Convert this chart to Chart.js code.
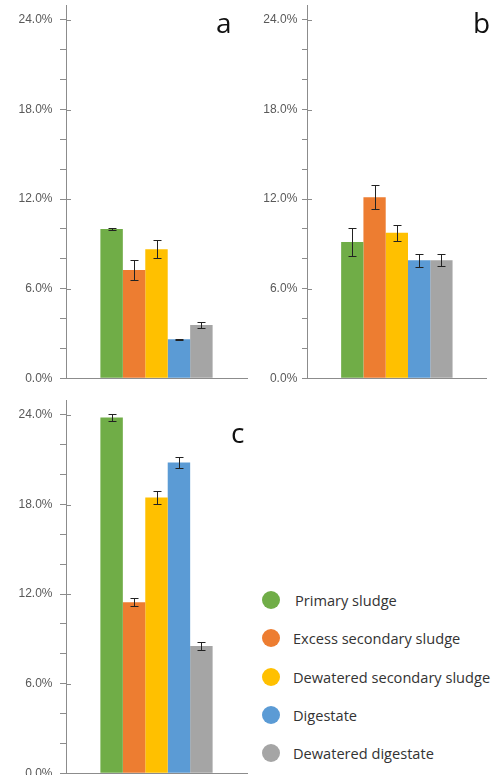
<!DOCTYPE html>
<html>
<head>
<meta charset="utf-8">
<script src="https://cdn.jsdelivr.net/npm/chart.js@4.4.1/dist/chart.umd.min.js"></script>
<style>
  html, body { margin: 0; padding: 0; width: 495px; height: 775px; overflow: hidden; background: #fff; }
  canvas { position: absolute; }
  .item { position: absolute; height: 20px; }
  .dot { position: absolute; left: 262px; top: 1px; width: 18px; height: 18px; border-radius: 50%; }
  .txt { position: absolute; left: 293px; top: 0; line-height: 20px; white-space: nowrap;
         font-family: 'Open Sans', sans-serif; font-size: 14.6px; color: #333; }
</style>
</head>
<body>
<canvas id="panelA" width="250" height="390" style="left:0;top:0"></canvas>
<canvas id="panelB" width="250" height="390" style="left:245px;top:0"></canvas>
<canvas id="panelC" width="250" height="390" style="left:0;top:395px"></canvas>
<div id="legend"></div>

<script>
// Sample types (one bar each per panel)
const seriesNames = ['Primary sludge', 'Excess secondary sludge', 'Dewatered secondary sludge', 'Digestate', 'Dewatered digestate'];
const seriesColors = ['#70AD47', '#ED7D31', '#FFC000', '#5B9BD5', '#A5A5A5'];

// Labelled y ticks (percent)
const majorTicks = [0, 6, 12, 18, 24];

// Panel a
const valuesA = [10.0, 7.26, 8.65, 2.61, 3.57];
const errorsA = [0.06, 0.65, 0.6, 0.05, 0.2];
// Panel b
const valuesB = [9.12, 12.13, 9.74, 7.91, 7.91];
const errorsB = [0.93, 0.8, 0.54, 0.44, 0.41];
// Panel c
const valuesC = [23.83, 11.46, 18.47, 20.82, 8.53];
const errorsC = [0.26, 0.26, 0.45, 0.39, 0.28];

const axisColor = '#8c8c8c';

// Draws the +/- error whiskers on top of every bar
const errorBars = {
  id: 'errorBars',
  afterDatasetsDraw(chart) {
    const ctx = chart.ctx;
    const y = chart.scales.y;
    ctx.save();
    ctx.strokeStyle = '#222';
    ctx.lineWidth = 1;
    chart.data.datasets.forEach((ds, i) => {
      const bar = chart.getDatasetMeta(i).data[0];
      const v = ds.data[0], e = ds.errorBar;
      const top = Math.round(y.getPixelForValue(v + e)) + 0.5;
      const bot = Math.round(y.getPixelForValue(v - e)) + 0.5;
      const x = Math.round(bar.x) + 0.5;
      ctx.beginPath();
      ctx.moveTo(x, top); ctx.lineTo(x, bot);
      ctx.moveTo(x - 4, top); ctx.lineTo(x + 4, top);
      ctx.moveTo(x - 4, bot); ctx.lineTo(x + 4, bot);
      ctx.stroke();
    });
    ctx.restore();
  }
};

// Major tick marks cross the axis line; this adds their inner half
const crossTicks = {
  id: 'crossTicks',
  afterDraw(chart) {
    const ctx = chart.ctx;
    const y = chart.scales.y;
    ctx.save();
    ctx.strokeStyle = axisColor;
    ctx.lineWidth = 1;
    majorTicks.forEach(t => {
      const py = Math.round(y.getPixelForValue(t)) + 0.5;
      ctx.beginPath();
      ctx.moveTo(y.right, py); ctx.lineTo(y.right + 5, py);
      ctx.stroke();
    });
    ctx.restore();
  }
};

// Panel letter
const panelTag = {
  id: 'panelTag',
  afterDraw(chart, args, opts) {
    const ctx = chart.ctx;
    ctx.save();
    ctx.fillStyle = '#111';
    ctx.font = '28px "Open Sans"';
    ctx.textBaseline = 'alphabetic';
    ctx.fillText(opts.text, opts.x, opts.y);
    ctx.restore();
  }
};

function makePanel(id, values, errors, cfg) {
  new Chart(document.getElementById(id), {
    type: 'bar',
    data: {
      labels: [''],
      datasets: seriesNames.map((name, i) => ({
        label: name,
        data: [values[i]],
        errorBar: errors[i],
        backgroundColor: seriesColors[i],
        borderWidth: 0,
        categoryPercentage: 0.62,
        barPercentage: 1
      }))
    },
    options: {
      responsive: false,
      animation: false,
      devicePixelRatio: 1,
      layout: { padding: { top: 5, bottom: 11.7, left: 0, right: cfg.right } },
      plugins: {
        legend: { display: false },
        tooltip: { enabled: false },
        panelTag: cfg.tag
      },
      scales: {
        x: {
          grid: { display: false },
          border: { display: true, color: axisColor, width: 1 },
          ticks: { display: false },
          afterFit(s) { s.height = 0; s.paddingLeft = 0; s.paddingRight = 0; }
        },
        y: {
          min: 0,
          max: 25,
          afterBuildTicks(s) { s.ticks = s.ticks.filter(t => t.value <= 24); },
          ticks: {
            stepSize: 2,
            padding: cfg.pad,
            color: '#595959',
            font: { family: 'Liberation Sans', size: 12 },
            callback: v => (majorTicks.includes(v) ? v.toFixed(1) + '%' : '')
          },
          grid: { drawOnChartArea: false, drawTicks: true, tickLength: cfg.tick, color: axisColor },
          border: { color: axisColor, width: 1 },
          afterFit(s) { s.width = cfg.axisW; s.paddingTop = 0; s.paddingBottom = 0; }
        }
      }
    },
    plugins: [errorBars, crossTicks, panelTag]
  });
}

makePanel('panelA', valuesA, errorsA, { axisW: 66, right: 3, pad: 7.5, tick: 6, tag: { text: 'a', x: 216, y: 33 } });
makePanel('panelB', valuesB, errorsB, { axisW: 62, right: 8.3, pad: 4.7, tick: 5, tag: { text: 'b', x: 228, y: 33 } });
makePanel('panelC', valuesC, errorsC, { axisW: 66, right: 3, pad: 7.5, tick: 6, tag: { text: 'c', x: 231, y: 48 } });

// Legend built from the series arrays
const legendCenters = [600, 638, 677, 715, 753];
const legend = document.getElementById('legend');
seriesNames.forEach((name, i) => {
  const item = document.createElement('div');
  item.className = 'item';
  item.style.top = (legendCenters[i] - 10) + 'px';
  item.style.left = '0px';
  const dot = document.createElement('div');
  dot.className = 'dot';
  dot.style.background = seriesColors[i];
  const txt = document.createElement('div');
  txt.className = 'txt';
  if (i === 0) txt.style.left = '295px';
  txt.textContent = name;
  item.appendChild(dot);
  item.appendChild(txt);
  legend.appendChild(item);
});
</script>
</body>
</html>
